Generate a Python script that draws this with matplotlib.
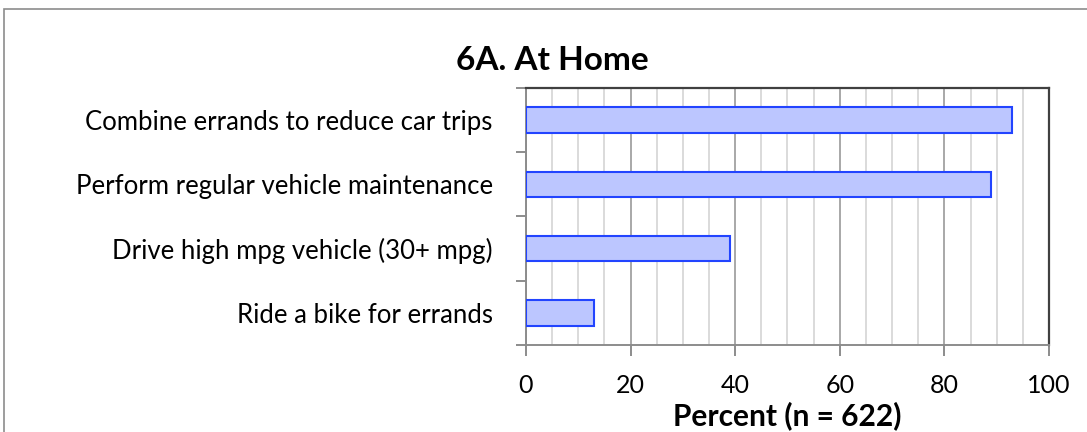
"""
Bar chart: energy-saving transport actions at home
"""

import numpy as np
import matplotlib.pyplot as plt
from matplotlib.ticker import MultipleLocator, FixedLocator
from matplotlib.patches import Rectangle

plt.rcParams['font.family'] = ['Lato', 'DejaVu Sans']

actions = [
    'Combine errands to reduce car trips',
    'Perform regular vehicle maintenance',
    'Drive high mpg vehicle (30+ mpg)',
    'Ride a bike for errands',
]
percent = [93, 89, 39, 13]

fig = plt.figure(figsize=(10.87, 4.32), dpi=100, facecolor='white')
ax = fig.add_axes([0.4839, 0.2014, 0.4811, 0.5949])

# outer chart frame
fig.patches.append(Rectangle((4 / 1087, -0.1), 1.2, 1 - 9 / 432 + 0.1,
                             transform=fig.transFigure, fill=False,
                             edgecolor='#8c8c8c', linewidth=1.2))

y = np.arange(len(actions))
ax.barh(y, percent, height=0.4, color='#bcc6ff', edgecolor='#2244ff',
        linewidth=1.5, zorder=3)

ax.set_xlim(0, 100)
ax.set_ylim(len(actions) - 0.5, -0.5)

ax.xaxis.set_major_locator(MultipleLocator(20))
ax.xaxis.set_minor_locator(MultipleLocator(5))
ax.grid(which='minor', axis='x', color='#d4d4d4', linewidth=1.2, zorder=0)
ax.grid(which='major', axis='x', color='#a8a8a8', linewidth=1.4, zorder=1)

ax.set_yticks(y)
ax.set_yticklabels(actions)
ax.yaxis.set_minor_locator(FixedLocator(np.arange(-0.5, len(actions), 1)))
ax.tick_params(axis='y', which='major', length=0, pad=24, labelsize=18.5)
ax.tick_params(axis='y', which='minor', length=7, width=1.4, color='#8c8c8c')
ax.tick_params(axis='x', which='major', length=8, width=1.4, color='#8c8c8c',
               pad=13, labelsize=18)
ax.tick_params(axis='x', which='minor', length=0)

for side in ['left', 'bottom']:
    ax.spines[side].set_color('#8c8c8c')
    ax.spines[side].set_linewidth(1.4)
for side in ['top', 'right']:
    ax.spines[side].set_color('#404040')
    ax.spines[side].set_linewidth(1.6)

ax.set_xlabel('Percent (n = 622)', fontsize=21.5, fontweight='bold', labelpad=3)
fig.text(552 / 1087, 1 - 60 / 432, '6A. At Home', ha='center', va='center',
         fontsize=24, fontweight='bold')

fig.savefig('out.png', dpi=100)
